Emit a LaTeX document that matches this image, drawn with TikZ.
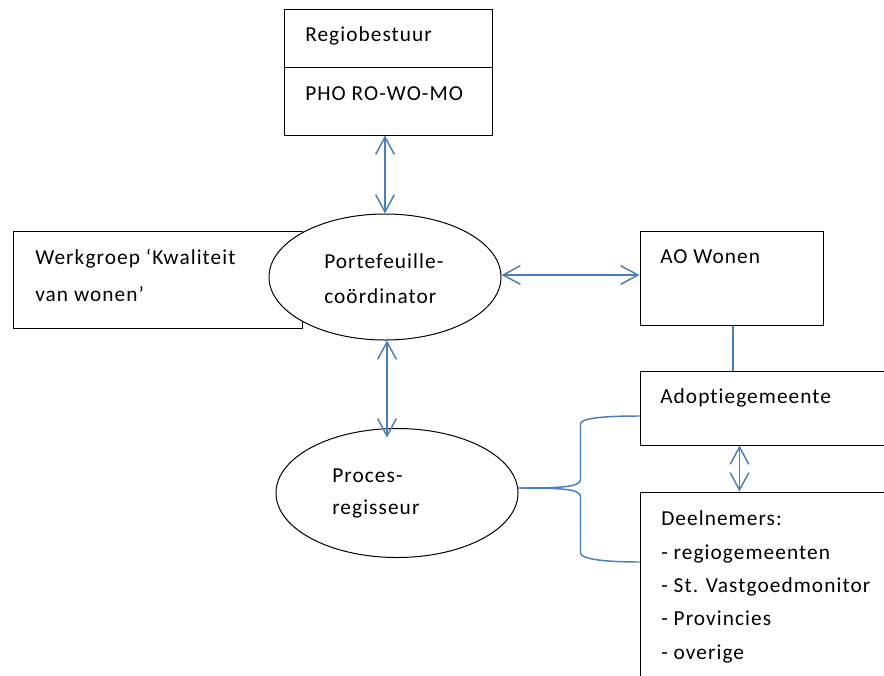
\documentclass[tikz,border=0pt]{standalone}
\usepackage{fontspec}
\setmainfont[LetterSpace=5,Ligatures=NoCommon]{Carlito}
\usepackage{tikz}
\usetikzlibrary{shapes.geometric}
\usetikzlibrary{arrows.meta}
\tikzset{>={Straight Barb[length=13pt,width=14pt]}}
\definecolor{lijnblauw}{HTML}{4A7EBB}
\tikzset{box/.style={draw,rectangle,fill=white,inner sep=0pt,line width=0.75pt}}
\tikzset{rol/.style={draw,ellipse,fill=white,inner sep=0pt,line width=0.75pt}}
\tikzset{tekst/.style={anchor=base west,align=left,inner sep=0pt,font=\fontsize{16pt}{26pt}\selectfont}}
\tikzset{lijn/.style={lijnblauw,line width=1.1pt}}

\begin{document}
\begin{tikzpicture}[x=0.75pt,y=-0.75pt]
    \clip (0,0) rectangle (884,675);
    \fill[white] (0,0) rectangle (884,675);
    % vakken
    \node[box,minimum width=156pt,minimum height=43.5pt] (regio) at (388,38) {};
    \node[box,minimum width=156pt,minimum height=51pt] (pho) at (388,101) {};
    \node[box,minimum width=216.75pt,minimum height=72.75pt] (werk) at (157.5,279.5) {};
    \node[box,minimum width=137.25pt,minimum height=70.5pt] (ao) at (731.5,278) {};
    \node[box,minimum width=187.5pt,minimum height=55.5pt] (adopt) at (765,408) {};
    \node[box,minimum width=187.5pt,minimum height=156pt] (deel) at (765,596) {};
    % ellipsen
    \node[rol,minimum width=174pt,minimum height=94.5pt] (pf) at (385,277) {};
    \node[rol,minimum width=181.5pt,minimum height=96.75pt] (pc) at (397,493) {};
    % teksten (anker op de laatste regel)
    \node[tekst] (t-regio) at (305,41) {Regiobestuur};
    \node[tekst] (t-pho) at (305,100) {PHO RO-WO-MO};
    \node[tekst,font=\fontsize{16pt}{27.5pt}\selectfont] (t-werk) at (35,301) {Werkgroep ‘Kwaliteit\\van wonen’};
    \node[tekst] (t-pf) at (324,303) {Portefeuille-\\coördinator};
    \node[tekst] (t-ao) at (660,263) {AO Wonen};
    \node[tekst] (t-adopt) at (660,403) {Adoptiegemeente};
    \node[tekst,font=\fontsize{16pt}{25pt}\selectfont] (t-deel) at (661,659) {Deelnemers:\\- regiogemeenten\\- St. Vastgoedmonitor\\- Provincies\\- overige};
    \node[tekst,font=\fontsize{16pt}{23.5pt}\selectfont] (t-pc) at (332,514) {Proces-\\regisseur};
    % verbindingen
    \draw[lijn,<->] (pf.north |- pho.south) -- (pf.north);
    \draw[lijn,<->] ([yshift=1.5pt]pf.east) -- ([yshift=1.5pt]pf.east -| ao.west);
    \draw[lijn,<->] ([xshift=1.5pt]pf.south) -- ++(0,97);
    \draw[lijn] ([xshift=1.2pt]ao.south) -- ([xshift=1.2pt]ao.south |- adopt.north);
    \draw[lijn,<->] ([xshift=75pt]adopt.south west) -- ([xshift=75pt]deel.north west);
    % accolade
    \draw[lijn] ([yshift=3.75pt]pc.east) .. controls +(45,0) and +(0,8) .. ++(62,-9)
        -- ++(0,-55) .. controls +(0,-6) and +(-35,0) .. ([yshift=-6pt]adopt.west);
    \draw[lijn] ([yshift=3.75pt]pc.east) .. controls +(45,0) and +(0,-8) .. ++(62,9)
        -- ++(0,56) .. controls +(0,6) and +(-35,0) .. ([yshift=25.5pt]deel.west);
\end{tikzpicture}
\end{document}
